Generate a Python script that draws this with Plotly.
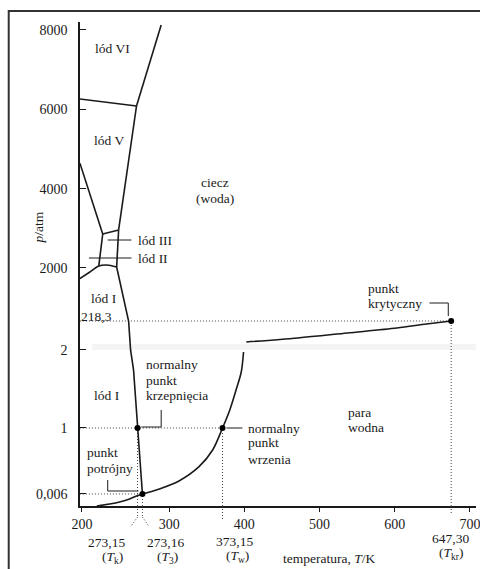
import numpy as np
import plotly.graph_objects as go

# ---------------- data ----------------
x_ticks = [200, 300, 400, 500, 600, 700]
x_tick_labels = ["200", "300", "400", "500", "600", "700"]
y_ticks = [0.006, 1, 2, 2000, 4000, 6000, 8000]
y_tick_labels = ["0,006", "1", "2", "2000", "4000", "6000", "8000"]

# phase boundaries (T in K, p in atm) - schematic diagram
subl_T = [219.6, 236.6, 249.6, 262.7, 271.8, 273.16]
subl_p = [0, 0.001, 0.002, 0.0035, 0.005, 0.006]
vap_low_T = [273.16, 290.1, 313.5, 340.6, 359.6, 373.15, 382.1, 389.8, 396.2, 399.0]
vap_low_p = [0.006, 0.081, 0.202, 0.413, 0.669, 1.0, 1.231, 1.487, 1.718, 1.974]
vap_high_T = [402.6, 471.1, 536.9, 601.7, 626.6, 647.3]
vap_high_p = [61.7, 91.5, 128.8, 166.1, 195.9, 218.3]
melt_T = [273.16, 273.15, 267.9, 264.0, 261.4, 245.7]
melt_p = [0.006, 1, 1.744, 2, 218.3, 2025]
ice_I_II_III_T = [197.4, 210.5, 222.2, 232.7, 245.7]
ice_I_II_III_p = [1647, 1866, 2050, 2076, 2025]
ice_II_III_T = [222.2, 227.4]
ice_II_III_p = [2050, 2857]
ice_III_liq_T = [245.7, 248.3]
ice_III_liq_p = [2025, 2958]
ice_III_V_T = [227.4, 248.3]
ice_III_V_p = [2857, 2958]
ice_II_V_T = [227.4, 197.4]
ice_II_V_p = [2857, 4641]
ice_V_liq_T = [248.3, 271.8]
ice_V_liq_p = [2958, 6082]
ice_V_VI_T = [197.4, 271.8]
ice_V_VI_p = [6259, 6082]
ice_VI_liq_T = [271.8, 292.0]
ice_VI_liq_p = [6082, 8124]

# special points
pt_T = [273.15, 273.16, 373.15, 647.30]
pt_p = [1, 0.006, 1, 218.3]
T_k, T_3, T_w, T_kr = pt_T
p_atm1, p_tp, p_kr = 1, 0.006, 218.3
axis_T_min = 197.4

# ---------------- schematic (piecewise) scales ----------------
T_KNOTS = [190, 200, 273.15, 273.16, 300, 373.15, 400, 600, 647.3, 700, 720]
U_KNOTS = [173.9, 184, 258, 264.5, 300, 371, 400, 600, 675, 700, 720]
P_KNOTS = [0, 0.006, 1, 2, 218.3, 2000, 9000]
V_KNOTS = [-3998, -3695, -2032, -66, 664, 2000, 9000]


def sx(T):
    return np.interp(np.asarray(T, float), T_KNOTS, U_KNOTS)


def sy(p):
    return np.interp(np.asarray(p, float), P_KNOTS, V_KNOTS)


X_RANGE = [181.5, 708.0]
Y_RANGE = [-3998, 8199]

W, H = 480, 569
ML, MR, MT, MB = 80, 0, 22, 63
PW, PH = W - ML - MR, H - MT - MB


def pp(px, py):
    return (px - ML) / PW, (MT + PH - py) / PH


def xpaper(T):
    return (float(sx(T)) - X_RANGE[0]) / (X_RANGE[1] - X_RANGE[0])


FONT = "Liberation Serif, Times New Roman, serif"
INK = "#1a1a1a"

fig = go.Figure()

solid = dict(color=INK, width=1.6)
smooth_curves = [
    (subl_T, subl_p), (vap_low_T, vap_low_p), (vap_high_T, vap_high_p),
    (ice_I_II_III_T, ice_I_II_III_p),
]
straight_curves = [
    (melt_T, melt_p),
    (ice_II_III_T, ice_II_III_p), (ice_III_liq_T, ice_III_liq_p),
    (ice_III_V_T, ice_III_V_p), (ice_II_V_T, ice_II_V_p),
    (ice_V_liq_T, ice_V_liq_p), (ice_V_VI_T, ice_V_VI_p),
    (ice_VI_liq_T, ice_VI_liq_p),
]

dot = dict(color="#444", width=1, dash="1px,2px")
guides = [
    ([axis_T_min, T_w], [p_atm1, p_atm1]),
    ([axis_T_min, T_3], [p_tp, p_tp]),
    ([axis_T_min, T_kr], [p_kr, p_kr]),
    ([T_k, T_k], [0, p_atm1]),
    ([T_3, T_3], [0, p_tp]),
    ([T_w, T_w], [0, p_atm1]),
    ([T_kr, T_kr], [0, p_kr]),
]
for gT, gp in guides:
    fig.add_trace(go.Scatter(x=sx(gT), y=sy(gp), mode="lines", line=dot,
                             hoverinfo="skip", showlegend=False))

for cT, cp in smooth_curves:
    fig.add_trace(go.Scatter(x=sx(cT), y=sy(cp), mode="lines",
                             line=dict(solid, shape="spline", smoothing=0.9),
                             hoverinfo="skip", showlegend=False))
for cT, cp in straight_curves:
    fig.add_trace(go.Scatter(x=sx(cT), y=sy(cp), mode="lines", line=solid,
                             hoverinfo="skip", showlegend=False))

fig.add_trace(go.Scatter(x=sx(pt_T), y=sy(pt_p), mode="markers",
                         marker=dict(color="black", size=6),
                         hoverinfo="skip", showlegend=False, cliponaxis=False))

shapes = []
# page frame
x0, y1 = pp(8, 11)
shapes.append(dict(type="rect", xref="paper", yref="paper", x0=x0, y0=-0.5,
                   x1=1.5, y1=y1, line=dict(color="#333", width=2)))
# axis break band
bx0, by0 = pp(92, 350)
bx1, by1 = pp(480, 344)
shapes.append(dict(type="rect", xref="paper", yref="paper", x0=bx0, x1=bx1,
                   y0=by0, y1=by1, fillcolor="rgba(0,0,0,0.045)",
                   line=dict(width=0), layer="below"))


def seg(pts, style):
    for (ax, ay), (bx, by) in zip(pts[:-1], pts[1:]):
        shapes.append(dict(type="line", xref="paper", yref="paper",
                           x0=ax, y0=ay, x1=bx, y1=by, line=style))


dline = dict(color="#444", width=1, dash="1px,2px")
ydown = lambda d: -d / PH
# dotted extensions below the temperature axis
seg([(xpaper(T_k), 0), (xpaper(T_k), ydown(11)), (pp(131, 527)[0], ydown(21))], dline)
seg([(xpaper(T_3), 0), (xpaper(T_3), ydown(11)), (pp(150, 527)[0], ydown(21))], dline)
seg([(xpaper(T_w), 0), (xpaper(T_w), ydown(13))], dline)
seg([(xpaper(T_kr), 0), (xpaper(T_kr), ydown(8))], dline)

lead = dict(color=INK, width=1)
seg([pp(108, 240), pp(132, 240)], lead)
seg([pp(89, 258), pp(132, 258)], lead)
seg([pp(433, 303), pp(452, 303), pp(452, 316)], lead)
seg([pp(142, 427), pp(162, 427), pp(162, 410)], lead)
seg([pp(108, 480), pp(108, 491), pp(139, 491)], lead)
seg([pp(228, 428), pp(244, 428)], lead)

ann = []


def txt(s, px, py, anchor="center", size=13.5, angle=0):
    x, y = pp(px, py)
    ann.append(dict(text=s, x=x, y=y, xref="paper", yref="paper",
                    xanchor=anchor, yanchor="middle", showarrow=False,
                    textangle=angle, font=dict(family=FONT, size=size, color=INK)))


txt("lód VI", 113, 48)
txt("lód V", 109, 140)
txt("ciecz", 216, 183)
txt("(woda)", 216, 198)
txt("lód III", 137, 240, "left")
txt("lód II", 137, 258, "left")
txt("lód I", 104, 298)
txt("218,3", 97, 316)
txt("punkt", 369, 288, "left")
txt("krytyczny", 369, 303, "left")
txt("normalny", 145, 364, "left")
txt("punkt", 145, 380, "left")
txt("krzepnięcia", 145, 395, "left")
txt("lód I", 107, 395)
txt("punkt", 85, 452, "left")
txt("potrójny", 85, 468, "left")
txt("normalny", 248, 428, "left")
txt("punkt", 248, 443, "left")
txt("wrzenia", 248, 459, "left")
txt("para", 349, 412, "left")
txt("wodna", 349, 427, "left")
txt("273,15", 107, 542)
txt("(<i>T</i><sub>k</sub>)", 113, 557)
txt("273,16", 166, 542)
txt("(<i>T</i><sub>3</sub>)", 168, 557)
txt("373,15", 236, 541)
txt("(<i>T</i><sub>w</sub>)", 239, 556)
txt("647,30", 454, 538)
txt("(<i>T</i><sub>kr</sub>)", 455, 553)
txt("temperatura, <i>T</i>/K", 332, 558)
txt("<i>p</i>/atm", 38, 227, angle=-90)

fig.update_layout(
    width=W, height=H, autosize=False,
    margin=dict(l=ML, r=MR, t=MT, b=MB, pad=0),
    paper_bgcolor="white", plot_bgcolor="white",
    shapes=shapes, annotations=ann, hovermode=False,
    font=dict(family=FONT, size=14, color=INK),
    xaxis=dict(range=X_RANGE, tickvals=sx(x_ticks).tolist(), ticktext=x_tick_labels,
               showline=True, linecolor=INK, linewidth=1.5, ticks="outside",
               ticklen=4, tickcolor=INK, tickwidth=1, showgrid=False, zeroline=False,
               ticklabeloverflow="allow", tickfont=dict(family=FONT, size=14)),
    yaxis=dict(range=Y_RANGE, tickvals=sy(y_ticks).tolist(), ticktext=y_tick_labels,
               showline=True, linecolor=INK, linewidth=1.5, ticks="inside",
               ticklen=6, tickcolor=INK, tickwidth=1, showgrid=False, zeroline=False,
               ticklabelstandoff=8, tickfont=dict(family=FONT, size=14)),
)

fig.write_html("out.html")
